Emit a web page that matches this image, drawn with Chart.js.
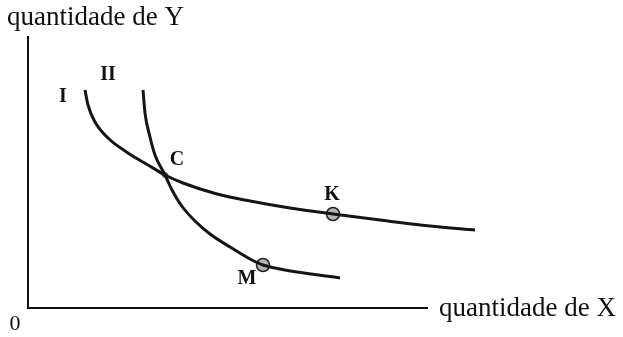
<!DOCTYPE html>
<html>
<head>
<meta charset="utf-8">
<script src="https://cdn.jsdelivr.net/npm/chart.js@4"></script>
<style>
html,body{margin:0;padding:0;background:#fff;}
#wrap{width:623px;height:337px;}
</style>
</head>
<body>
<div id="wrap"><canvas id="c" width="623" height="337"></canvas></div>
<script>
// Curve I (flatter indifference curve)
const curveIX = [57, 60, 67, 80, 100, 120, 137, 155, 189, 222, 262, 305, 352, 402, 447];
const curveIY = [218, 203, 186, 170, 155, 143, 133, 125, 114, 107, 100, 94, 88, 82, 78];
// Curve II (steeper indifference curve)
const curveIIX = [115, 117, 122, 127, 137, 144, 153, 167, 182, 202, 222, 235, 252, 269, 312];
const curveIIY = [218, 195, 171, 153, 133, 118, 103, 87, 74, 61, 49, 43, 39, 36, 30];
// Marked points
const pointNames = ['K', 'M'];
const pointX = [305, 235];
const pointY = [94, 43];
// Intersection C
const crossX = [137];
const crossY = [133];
// Curve labels and their anchor positions
const curveLabels = ['I', 'II'];
const curveLabelX = [35, 80];
const curveLabelY = [211, 233];
const axisXEnd = 400;
const axisYEnd = 272;
const xTitle = 'quantidade de X';
const yTitle = 'quantidade de Y';
const originLabel = '0';

const toPts = (xs, ys) => xs.map((x, i) => ({x: x, y: ys[i]}));
const SERIF = '"Liberation Serif", "DejaVu Serif", serif';

const overlay = {
  id: 'overlay',
  afterDatasetsDraw(chart) {
    const ctx = chart.ctx;
    const xs = chart.scales.x, ys = chart.scales.y;
    const x0 = xs.getPixelForValue(0), y0 = ys.getPixelForValue(0);
    ctx.save();
    ctx.strokeStyle = '#111';
    ctx.lineWidth = 2;
    ctx.beginPath();
    ctx.moveTo(x0, ys.getPixelForValue(axisYEnd));
    ctx.lineTo(x0, y0);
    ctx.lineTo(xs.getPixelForValue(axisXEnd), y0);
    ctx.stroke();
    ctx.fillStyle = '#111';
    ctx.textBaseline = 'middle';
    ctx.font = '27px ' + SERIF;
    ctx.textAlign = 'left';
    ctx.fillText(yTitle, 7, 18);
    ctx.fillText(xTitle, xs.getPixelForValue(axisXEnd) + 11, y0 + 1);
    ctx.textAlign = 'center';
    ctx.font = '22px ' + SERIF;
    ctx.fillText(originLabel, 15, y0 + 16);
    ctx.font = 'bold 20px ' + SERIF;
    curveLabels.forEach((t, i) => {
      ctx.fillText(t, xs.getPixelForValue(curveLabelX[i]), ys.getPixelForValue(curveLabelY[i]));
    });
    ctx.fillText('C', xs.getPixelForValue(crossX[0]) + 12, ys.getPixelForValue(crossY[0]) - 15);
    ctx.fillText(pointNames[0], xs.getPixelForValue(pointX[0]) - 1, ys.getPixelForValue(pointY[0]) - 19);
    ctx.fillText(pointNames[1], xs.getPixelForValue(pointX[1]) - 16, ys.getPixelForValue(pointY[1]) + 14);
    ctx.restore();
  }
};

new Chart(document.getElementById('c'), {
  type: 'scatter',
  data: {
    datasets: [
      {label: 'I', data: toPts(curveIX, curveIY), showLine: true, borderColor: '#151515', borderWidth: 3, pointRadius: 0, cubicInterpolationMode: 'monotone', fill: false},
      {label: 'II', data: toPts(curveIIX, curveIIY), showLine: true, borderColor: '#151515', borderWidth: 3, pointRadius: 0, cubicInterpolationMode: 'monotone', fill: false},
      {label: 'pts', data: toPts(pointX, pointY), showLine: false, pointRadius: 6.5, pointBackgroundColor: '#b5b5b5', pointBorderColor: '#222', pointBorderWidth: 1.5},
      {label: 'C', data: toPts(crossX, crossY), showLine: false, pointRadius: 2.5, pointBackgroundColor: '#fff', pointBorderColor: '#222', pointBorderWidth: 1}
    ]
  },
  options: {
    responsive: false,
    animation: false,
    layout: {padding: {left: 28, top: 36, right: 125, bottom: 29}},
    plugins: {legend: {display: false}, tooltip: {enabled: false}},
    scales: {
      x: {type: 'linear', min: 0, max: 470, display: false},
      y: {type: 'linear', min: 0, max: 272, display: false}
    }
  },
  plugins: [overlay]
});
</script>
</body>
</html>
